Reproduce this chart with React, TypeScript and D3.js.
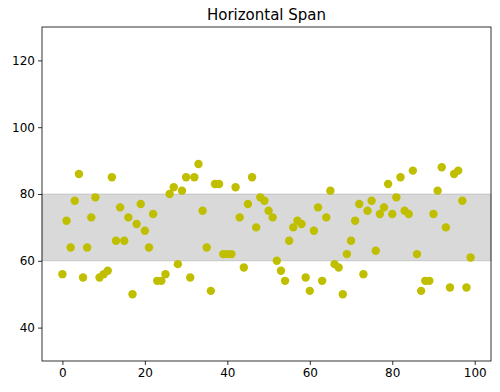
import React, { useEffect, useRef } from 'react';
import * as d3 from 'd3';

// y values for x = 0..99
const yValues: number[] = [
  56, 72, 64, 78, 86, 55, 64, 73, 79, 55,
  56, 57, 85, 66, 76, 66, 73, 50, 71, 77,
  69, 64, 74, 54, 54, 56, 80, 82, 59, 81,
  85, 55, 85, 89, 75, 64, 51, 83, 83, 62,
  62, 62, 82, 73, 58, 77, 85, 70, 79, 78,
  75, 73, 60, 57, 54, 66, 70, 72, 71, 55,
  51, 69, 76, 54, 73, 81, 59, 58, 50, 62,
  66, 72, 77, 56, 75, 78, 63, 74, 76, 83,
  74, 79, 85, 75, 74, 87, 62, 51, 54, 54,
  74, 81, 88, 70, 52, 86, 87, 78, 52, 61,
];
const xValues: number[] = yValues.map((_, i) => i);

const spanRange: [number, number] = [60, 80];
const xTicks = [0, 20, 40, 60, 80, 100];
const yTicks = [40, 60, 80, 100, 120];
const title = 'Horizontal Span';

export default function App() {
  const svgRef = useRef<SVGSVGElement>(null);

  useEffect(() => {
    if (!svgRef.current) return;
    const svg = d3.select(svgRef.current);
    svg.selectAll('*').remove();

    const width = 500;
    const height = 392;
    const margin = { top: 27, right: 9, bottom: 31, left: 42 };
    const font = 'DejaVu Sans, sans-serif';

    const x = d3.scaleLinear().domain([-4.95, 103.95]).range([margin.left, width - margin.right]);
    const y = d3.scaleLinear().domain([30, 130]).range([height - margin.bottom, margin.top]);

    svg.append('rect').attr('width', width).attr('height', height).attr('fill', '#fff');

    // span
    svg.append('rect')
      .attr('x', margin.left)
      .attr('y', y(spanRange[1]))
      .attr('width', width - margin.right - margin.left)
      .attr('height', y(spanRange[0]) - y(spanRange[1]))
      .attr('fill', 'gray')
      .attr('fill-opacity', 0.3)
      .attr('stroke', 'gray')
      .attr('stroke-opacity', 0.3)
      .attr('stroke-width', 1);

    // points
    svg.append('g')
      .selectAll('circle')
      .data(yValues)
      .enter()
      .append('circle')
      .attr('cx', (_, i) => x(xValues[i]))
      .attr('cy', (d) => y(d))
      .attr('r', 4.2)
      .attr('fill', '#bfbf00');

    // axes
    const xAxis = svg.append('g')
      .attr('transform', `translate(0,${height - margin.bottom})`)
      .call(d3.axisBottom(x).tickValues(xTicks).tickSize(4).tickPadding(3));
    const yAxis = svg.append('g')
      .attr('transform', `translate(${margin.left},0)`)
      .call(d3.axisLeft(y).tickValues(yTicks).tickSize(4).tickPadding(3));
    [xAxis, yAxis].forEach((a) => {
      a.select('.domain').remove();
      a.selectAll('text').attr('font-family', font).attr('font-size', 12).attr('fill', '#000');
      a.selectAll('line').attr('stroke', '#000').attr('stroke-width', 0.8);
    });

    // frame
    svg.append('rect')
      .attr('x', margin.left)
      .attr('y', margin.top)
      .attr('width', width - margin.right - margin.left)
      .attr('height', height - margin.bottom - margin.top)
      .attr('fill', 'none')
      .attr('stroke', '#000')
      .attr('stroke-width', 0.8);

    svg.append('text')
      .attr('x', (margin.left + width - margin.right) / 2)
      .attr('y', margin.top - 7)
      .attr('text-anchor', 'middle')
      .attr('font-family', font)
      .attr('font-size', 15)
      .text(title);
  }, []);

  return (
    <svg
      ref={svgRef}
      width={500}
      height={392}
      style={{ position: 'absolute', left: 0, top: 0, display: 'block' }}
    />
  );
}
